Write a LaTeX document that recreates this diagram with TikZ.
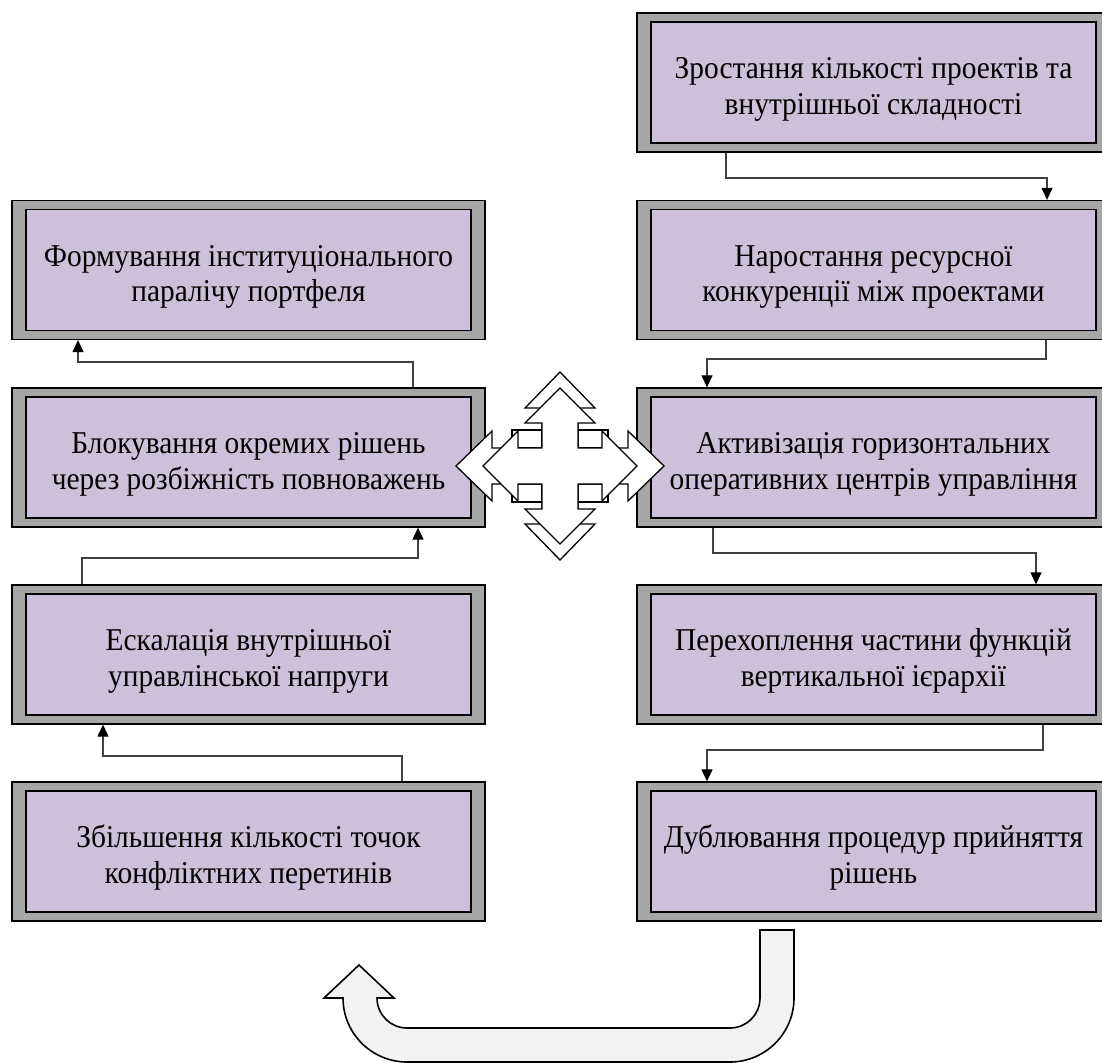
\documentclass[tikz,border=0pt]{standalone}
\usepackage{fontspec}
\setmainfont{Liberation Serif}
\usetikzlibrary{arrows.meta,calc}
\definecolor{frameGrey}{RGB}{166,166,166}
\definecolor{boxLilac}{RGB}{204,192,218}
\definecolor{linkGrey}{RGB}{64,64,64}
\definecolor{bendFill}{RGB}{242,242,242}

% outline of a four-way arrow around the origin:
% #1 horizontal tip, #2 vertical tip, #3 horizontal head base, #4 vertical head base
\newcommand{\crossoutline}[4]{%
  (0,-#2) -- (35,-#4) -- (18,-#4) -- (18,-18) -- (#3,-18) -- (#3,-35) -- (#1,0)
  -- (#3,35) -- (#3,18) -- (18,18) -- (18,#4) -- (35,#4) -- (0,#2)
  -- (-35,#4) -- (-18,#4) -- (-18,18) -- (-#3,18) -- (-#3,35) -- (-#1,0)
  -- (-#3,-35) -- (-#3,-18) -- (-18,-18) -- (-18,-#4) -- (-35,-#4) -- cycle}

% two centred lines, slightly tall, set a little below the middle of the box
\newcommand{\stagetext}[2]{%
  \raisebox{-7pt}[\height][\depth]{\scalebox{1}[1.08]{%
    \begin{tabular}{@{}c@{}}#1\\#2\end{tabular}}}}

\begin{document}
\begin{tikzpicture}[x=1pt,y=-1pt,
  stagebox/.style={rectangle, draw=black, line width=1.3pt, fill=frameGrey,
    minimum width=473pt, minimum height=139pt, inner sep=0pt, align=center,
    font=\fontsize{29.4}{33}\selectfont,
    path picture={\draw[line width=1.8pt, fill=boxLilac]
      ($(path picture bounding box.south west)+(14pt,9pt)$) rectangle
      ($(path picture bounding box.north east)+(-14pt,-9pt)$);}},
  link/.style={draw=linkGrey, line width=1.2pt,
    -{Triangle[width=11pt,length=12pt,color=black]}},
  crossfill/.style={draw=black, line width=1.3pt, fill=white, line join=miter},
  uturn/.style={draw=black, line width=1.6pt, fill=bendFill, line join=miter}
]
\useasboundingbox (0,0) rectangle (1102,1062);
\clip (0,0) rectangle (1102,1062);

% right column
\node[stagebox] (R1) at (873.5,82.5) {\stagetext{Зростання кількості проектів та}{внутрішньої складності}};
\node[stagebox] (R2) at (873.5,270) {\stagetext{Наростання ресурсної}{конкуренції між проектами}};
\node[stagebox] (R3) at (873.5,457.5) {\stagetext{Активізація горизонтальних}{оперативних центрів управління}};
\node[stagebox] (R4) at (873.5,654.5) {\stagetext{Перехоплення частини функцій}{вертикальної ієрархії}};
\node[stagebox] (R5) at (873.5,851.5) {\stagetext{Дублювання процедур прийняття}{рішень}};

% left column
\node[stagebox] (L1) at (248.5,270) {\stagetext{Формування інституціонального}{паралічу портфеля}};
\node[stagebox] (L2) at (248.5,457.5) {\stagetext{Блокування окремих рішень}{через розбіжність повноважень}};
\node[stagebox] (L3) at (248.5,654.5) {\stagetext{Ескалація внутрішньої}{управлінської напруги}};
\node[stagebox] (L4) at (248.5,851.5) {\stagetext{Збільшення кількості точок}{конфліктних перетинів}};

% elbow connectors
\draw[link] (726,0 |- R1.south) -- (726,178) -| (1047,0 |- R2.north);
\draw[link] (1046,0 |- R2.south) -- (1046,359) -| (707,0 |- R3.north);
\draw[link] (713,0 |- R3.south) -- (713,553) -| (1036,0 |- R4.north);
\draw[link] (1043,0 |- R4.south) -- (1043,750) -| (707,0 |- R5.north);
\draw[link] (402,0 |- L4.north) -- (402,756) -| (103,0 |- L3.south);
\draw[link] (82,0 |- L3.north) -- (82,558) -| (418,0 |- L2.south);
\draw[link] (413,0 |- L2.north) -- (413,362) -| (78,0 |- L1.south);

% four-way arrow in the middle
\begin{scope}[shift={(560,466)}]
  \draw[crossfill] (-48,-36) rectangle (-18,-18);
  \draw[crossfill] (18,-36) rectangle (48,-18);
  \draw[crossfill] (-48,18) rectangle (-18,36);
  \draw[crossfill] (18,18) rectangle (48,36);
  \draw[crossfill] \crossoutline{104}{94}{68}{58};
  \draw[crossfill] \crossoutline{77}{78}{42}{43};
\end{scope}

% U-turn arrow from the right column back to the left one
\draw[uturn] (760,930) -- (794,930) -- (794,998)
  .. controls (794,1033.3) and (765.3,1062) .. (730,1062)
  -- (407,1062)
  .. controls (371.7,1062) and (343,1033.3) .. (343,998)
  -- (324,998) -- (359,965) -- (394,998) -- (377,998)
  .. controls (377,1014.6) and (390.4,1028) .. (407,1028)
  -- (730,1028)
  .. controls (746.6,1028) and (760,1014.6) .. (760,998)
  -- cycle;
\end{tikzpicture}
\end{document}
